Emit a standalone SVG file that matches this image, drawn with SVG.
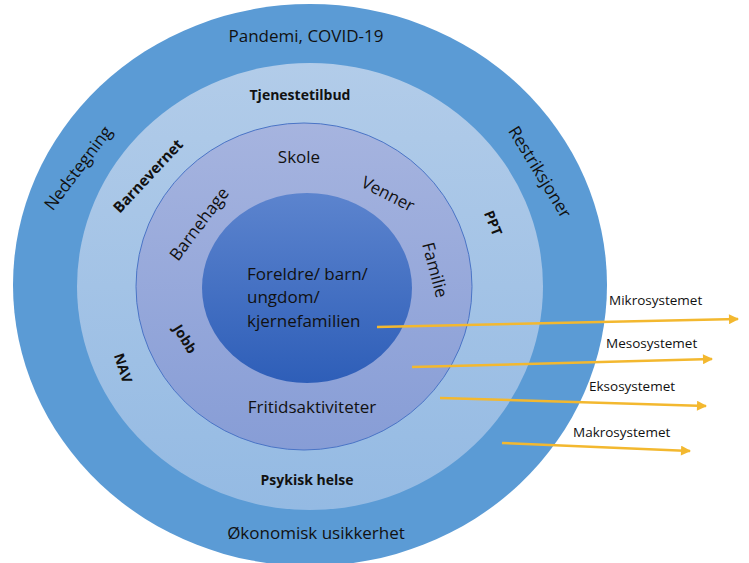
<svg xmlns="http://www.w3.org/2000/svg" width="749" height="563" viewBox="0 0 749 563">
<style>
text{font-family:"Open Sans","Noto Sans","Liberation Sans",sans-serif;fill:#111;font-size:17px}
.b{font-weight:bold;font-size:14px}
.c{text-anchor:middle}
.s{font-size:13.5px}
.arr{stroke:#F3B82F;stroke-width:2.5;fill:none;marker-end:url(#ah)}
</style>
<defs>
<linearGradient id="gL" x1="0" y1="0" x2="0" y2="1"><stop offset="0" stop-color="#B2CCE9"/><stop offset="1" stop-color="#94BAE3"/></linearGradient>
<linearGradient id="gM" x1="0" y1="0" x2="0" y2="1"><stop offset="0" stop-color="#A6B4DF"/><stop offset="1" stop-color="#879DD6"/></linearGradient>
<linearGradient id="gI" x1="0" y1="0" x2="0" y2="1"><stop offset="0" stop-color="#5C84CE"/><stop offset="1" stop-color="#2E5EB8"/></linearGradient>
<marker id="ah" viewBox="0 0 10 10" refX="9" refY="5" markerWidth="4.4" markerHeight="4" orient="auto" markerUnits="strokeWidth"><path d="M0,0 L10,5 L0,10 z" fill="#F3B82F"/></marker>
</defs>
<g id="makro">
<ellipse cx="310" cy="285" rx="297" ry="281" fill="#5B9BD5"/>
<text class="c" x="306" y="42">Pandemi, COVID-19</text>
<text class="c" x="316" y="539">Økonomisk usikkerhet</text>
<text class="c" transform="translate(78,168) rotate(-53)" dy="0.35em">Nedstegning</text>
<text class="c" transform="translate(540,172) rotate(58.6)" dy="0.35em">Restriksjoner</text>
</g>
<g id="ekso">
<ellipse cx="310" cy="286.5" rx="233" ry="223.5" fill="url(#gL)"/>
<text class="c b" x="300" y="100">Tjenestetilbud</text>
<text class="c b" x="307" y="485">Psykisk helse</text>
<text class="c b" style="font-size:15px" transform="translate(148,176) rotate(-47)" dy="0.35em">Barnevernet</text>
<text class="c b" transform="translate(493,223) rotate(68)" dy="0.35em">PPT</text>
<text class="c b" transform="translate(123,368) rotate(72)" dy="0.35em">NAV</text>
</g>
<g id="meso">
<ellipse cx="304" cy="286.5" rx="168" ry="163.5" fill="url(#gM)" stroke="#4A74C6" stroke-width="1"/>
<text class="c" x="299" y="163">Skole</text>
<text class="c" x="312" y="413">Fritidsaktiviteter</text>
<text class="c" transform="translate(388,194) rotate(27)" dy="0.35em">Venner</text>
<text class="c" transform="translate(435,270) rotate(75)" dy="0.35em">Familie</text>
<text class="c" transform="translate(199,224) rotate(-53)" dy="0.35em">Barnehage</text>
<text class="c b" transform="translate(185,339) rotate(58)" dy="0.35em">Jobb</text>
</g>
<g id="mikro">
<ellipse cx="307" cy="288" rx="105" ry="95" fill="url(#gI)"/>
<text x="247" y="280">Foreldre/ barn/</text>
<text x="247" y="303">ungdom/</text>
<text x="247" y="327">kjernefamilien</text>
</g>
<g id="connectors">
<line class="arr" x1="377" y1="327" x2="738" y2="319"/>
<line class="arr" x1="412" y1="367" x2="712" y2="359"/>
<line class="arr" x1="440" y1="398" x2="706" y2="406"/>
<line class="arr" x1="502" y1="443" x2="690" y2="451"/>
</g>
<g id="labels">
<text class="s" x="609" y="305">Mikrosystemet</text>
<text class="s" x="606" y="348">Mesosystemet</text>
<text class="s" x="589" y="391">Eksosystemet</text>
<text class="s" x="573" y="437">Makrosystemet</text>
</g>
</svg>
